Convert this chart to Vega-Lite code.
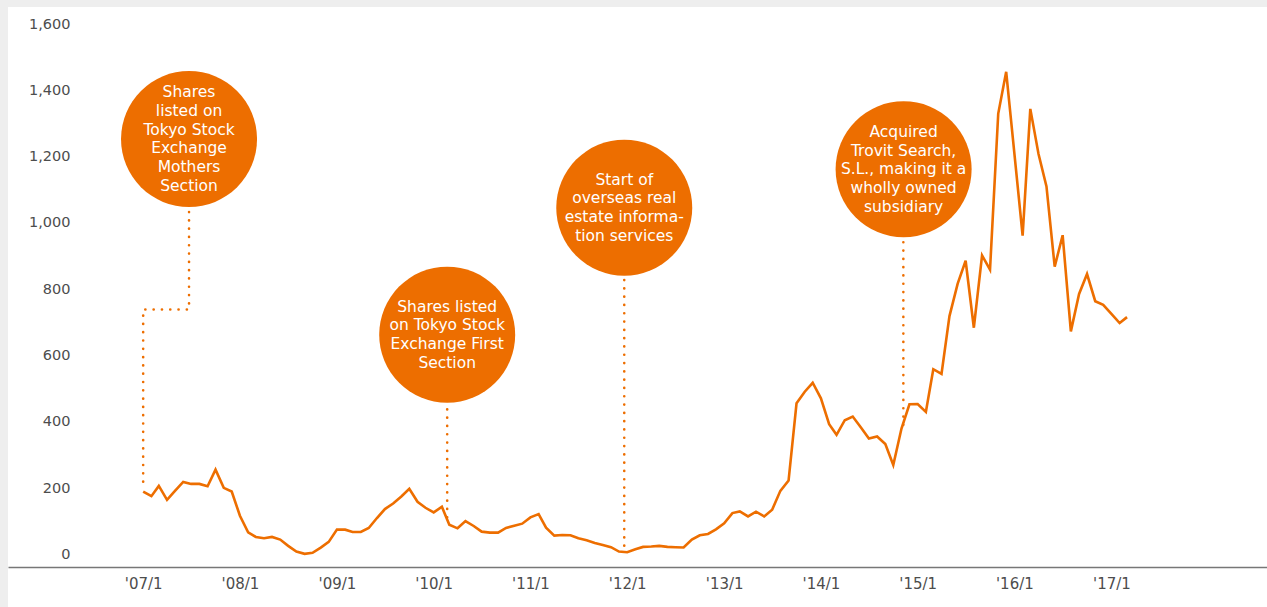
{
  "$schema": "https://vega.github.io/schema/vega-lite/v6.json",
  "width": 1259,
  "height": 600,
  "autosize": {"type": "none"},
  "padding": {"left": 8, "top": 7, "right": 0, "bottom": 0},
  "background": "#eeeeee",
  "config": {"view": {"fill": "white", "stroke": null}},
  "datasets": {
    "prices": [
      {"date": "2007-01-01", "value": 190}, {"date": "2007-02-01", "value": 176}, {"date": "2007-03-01", "value": 207}, {"date": "2007-04-01", "value": 165},
      {"date": "2007-05-01", "value": 192}, {"date": "2007-06-01", "value": 219}, {"date": "2007-07-01", "value": 213}, {"date": "2007-08-01", "value": 213},
      {"date": "2007-09-01", "value": 206}, {"date": "2007-10-01", "value": 256}, {"date": "2007-11-01", "value": 201}, {"date": "2007-12-01", "value": 190},
      {"date": "2008-01-01", "value": 117}, {"date": "2008-02-01", "value": 67}, {"date": "2008-03-01", "value": 53}, {"date": "2008-04-01", "value": 49},
      {"date": "2008-05-01", "value": 53}, {"date": "2008-06-01", "value": 45}, {"date": "2008-07-01", "value": 26}, {"date": "2008-08-01", "value": 9},
      {"date": "2008-09-01", "value": 2}, {"date": "2008-10-01", "value": 5}, {"date": "2008-11-01", "value": 21}, {"date": "2008-12-01", "value": 38},
      {"date": "2009-01-01", "value": 75}, {"date": "2009-02-01", "value": 75}, {"date": "2009-03-01", "value": 68}, {"date": "2009-04-01", "value": 68},
      {"date": "2009-05-01", "value": 80}, {"date": "2009-06-01", "value": 110}, {"date": "2009-07-01", "value": 137}, {"date": "2009-08-01", "value": 154},
      {"date": "2009-09-01", "value": 175}, {"date": "2009-10-01", "value": 198}, {"date": "2009-11-01", "value": 159}, {"date": "2009-12-01", "value": 141},
      {"date": "2010-01-01", "value": 127}, {"date": "2010-02-01", "value": 144}, {"date": "2010-03-01", "value": 90}, {"date": "2010-04-01", "value": 79},
      {"date": "2010-05-01", "value": 101}, {"date": "2010-06-01", "value": 86}, {"date": "2010-07-01", "value": 69}, {"date": "2010-08-01", "value": 66},
      {"date": "2010-09-01", "value": 66}, {"date": "2010-10-01", "value": 80}, {"date": "2010-11-01", "value": 87}, {"date": "2010-12-01", "value": 93},
      {"date": "2011-01-01", "value": 112}, {"date": "2011-02-01", "value": 122}, {"date": "2011-03-01", "value": 81}, {"date": "2011-04-01", "value": 57},
      {"date": "2011-05-01", "value": 59}, {"date": "2011-06-01", "value": 58}, {"date": "2011-07-01", "value": 49}, {"date": "2011-08-01", "value": 43},
      {"date": "2011-09-01", "value": 35}, {"date": "2011-10-01", "value": 29}, {"date": "2011-11-01", "value": 22}, {"date": "2011-12-01", "value": 9},
      {"date": "2012-01-01", "value": 7}, {"date": "2012-02-01", "value": 16}, {"date": "2012-03-01", "value": 23}, {"date": "2012-04-01", "value": 24},
      {"date": "2012-05-01", "value": 26}, {"date": "2012-06-01", "value": 23}, {"date": "2012-07-01", "value": 22}, {"date": "2012-08-01", "value": 21},
      {"date": "2012-09-01", "value": 45}, {"date": "2012-10-01", "value": 58}, {"date": "2012-11-01", "value": 62}, {"date": "2012-12-01", "value": 76},
      {"date": "2013-01-01", "value": 94}, {"date": "2013-02-01", "value": 125}, {"date": "2013-03-01", "value": 130}, {"date": "2013-04-01", "value": 115},
      {"date": "2013-05-01", "value": 129}, {"date": "2013-06-01", "value": 115}, {"date": "2013-07-01", "value": 135}, {"date": "2013-08-01", "value": 192},
      {"date": "2013-09-01", "value": 223}, {"date": "2013-10-01", "value": 456}, {"date": "2013-11-01", "value": 491}, {"date": "2013-12-01", "value": 518},
      {"date": "2014-01-01", "value": 471}, {"date": "2014-02-01", "value": 393}, {"date": "2014-03-01", "value": 361}, {"date": "2014-04-01", "value": 405},
      {"date": "2014-05-01", "value": 416}, {"date": "2014-06-01", "value": 383}, {"date": "2014-07-01", "value": 350}, {"date": "2014-08-01", "value": 356},
      {"date": "2014-09-01", "value": 333}, {"date": "2014-10-01", "value": 270}, {"date": "2014-11-01", "value": 380}, {"date": "2014-12-01", "value": 453},
      {"date": "2015-01-01", "value": 454}, {"date": "2015-02-01", "value": 430}, {"date": "2015-03-01", "value": 559}, {"date": "2015-04-01", "value": 545},
      {"date": "2015-05-01", "value": 719}, {"date": "2015-06-01", "value": 817}, {"date": "2015-07-01", "value": 886}, {"date": "2015-08-01", "value": 684},
      {"date": "2015-09-01", "value": 902}, {"date": "2015-10-01", "value": 859}, {"date": "2015-11-01", "value": 1330}, {"date": "2015-12-01", "value": 1456},
      {"date": "2016-02-01", "value": 962}, {"date": "2016-03-01", "value": 1344}, {"date": "2016-04-01", "value": 1208},
      {"date": "2016-05-01", "value": 1110}, {"date": "2016-06-01", "value": 868}, {"date": "2016-07-01", "value": 963}, {"date": "2016-08-01", "value": 673},
      {"date": "2016-09-01", "value": 786}, {"date": "2016-10-01", "value": 846}, {"date": "2016-11-01", "value": 764}, {"date": "2016-12-01", "value": 753},
      {"date": "2017-01-01", "value": 726}, {"date": "2017-02-01", "value": 698}, {"date": "2017-03-01", "value": 716}
    ],
    "connectors": [
      {"seg": "a", "ord": 1, "date": "2007-06-23", "value": 1033},
      {"seg": "a", "ord": 2, "date": "2007-06-23", "value": 739},
      {"seg": "a", "ord": 3, "date": "2007-01-01", "value": 739},
      {"seg": "a", "ord": 4, "date": "2007-01-01", "value": 200},
      {"seg": "b", "ord": 1, "date": "2010-02-21", "value": 438},
      {"seg": "b", "ord": 2, "date": "2010-02-21", "value": 108},
      {"seg": "c", "ord": 1, "date": "2011-12-21", "value": 828},
      {"seg": "c", "ord": 2, "date": "2011-12-21", "value": 23},
      {"seg": "d", "ord": 1, "date": "2014-11-08", "value": 942},
      {"seg": "d", "ord": 2, "date": "2014-11-08", "value": 391}
    ],
    "events": [
      {"id": 1, "date": "2007-06-23", "value": 1253, "label": "Shares\nlisted on\nTokyo Stock\nExchange\nMothers\nSection"},
      {"id": 2, "date": "2010-02-21", "value": 663, "label": "Shares listed\non Tokyo Stock\nExchange First\nSection"},
      {"id": 3, "date": "2011-12-21", "value": 1046, "label": "Start of\noverseas real\nestate informa-\ntion services"},
      {"id": 4, "date": "2014-11-09", "value": 1162, "label": "Acquired\nTrovit Search,\nS.L., making it a\nwholly owned\nsubsidiary"}
    ]
  },
  "encoding": {
    "x": {
      "field": "date",
      "type": "temporal",
      "scale": {
        "type": "utc",
        "domain": [
          {"year": 2005, "month": 8, "date": 9, "utc": true},
          {"year": 2018, "month": 8, "date": 11, "utc": true}
        ]
      },
      "axis": {
        "title": null,
        "orient": "bottom",
        "offset": -40,
        "labelExpr": "\"'\" + utcFormat(datum.value, '%y/%-m')",
        "values": [
          {"year": 2007, "month": 1, "date": 1, "utc": true},
          {"year": 2008, "month": 1, "date": 1, "utc": true},
          {"year": 2009, "month": 1, "date": 1, "utc": true},
          {"year": 2010, "month": 1, "date": 1, "utc": true},
          {"year": 2011, "month": 1, "date": 1, "utc": true},
          {"year": 2012, "month": 1, "date": 1, "utc": true},
          {"year": 2013, "month": 1, "date": 1, "utc": true},
          {"year": 2014, "month": 1, "date": 1, "utc": true},
          {"year": 2015, "month": 1, "date": 1, "utc": true},
          {"year": 2016, "month": 1, "date": 1, "utc": true},
          {"year": 2017, "month": 1, "date": 1, "utc": true}
        ],
        "grid": false,
        "ticks": false,
        "domain": true,
        "domainColor": "#777777",
        "domainWidth": 1.5,
        "labelPadding": 9,
        "labelFont": "DejaVu Sans",
        "labelFontSize": 15,
        "labelColor": "#4d4d4d",
        "labelFlush": false,
        "labelOverlap": false
      }
    },
    "y": {
      "field": "value",
      "type": "quantitative",
      "scale": {"domain": [-158.3, 1651.3], "nice": false, "zero": false},
      "axis": {
        "title": null,
        "orient": "left",
        "offset": -64,
        "values": [0, 200, 400, 600, 800, 1000, 1200, 1400, 1600],
        "format": ",.0f",
        "grid": false,
        "ticks": false,
        "domain": false,
        "labelPadding": 2,
        "labelFont": "DejaVu Sans",
        "labelFontSize": 14.5,
        "labelColor": "#4d4d4d",
        "labelFlush": false,
        "labelOverlap": false
      }
    }
  },
  "layer": [
    {
      "data": {"name": "connectors"},
      "mark": {"type": "line", "color": "#ed6e00", "strokeWidth": 2.6, "strokeDash": [0.1, 8.2], "strokeCap": "round"},
      "encoding": {
        "detail": {"field": "seg", "type": "nominal"},
        "order": {"field": "ord", "type": "quantitative"}
      }
    },
    {
      "data": {"name": "prices"},
      "mark": {"type": "line", "color": "#ed6e00", "strokeWidth": 2.6},
      "encoding": {}
    },
    {
      "data": {"name": "events"},
      "mark": {"type": "point", "shape": "circle", "filled": true, "size": 18496, "color": "#ed6e00", "opacity": 1, "strokeWidth": 0},
      "encoding": {}
    },
    {
      "data": {"name": "events"},
      "transform": [{"filter": "datum.id == 1"}],
      "mark": {"type": "text", "color": "#ffffff", "font": "DejaVu Sans", "fontSize": 15.5, "lineHeight": 18.7, "lineBreak": "\n", "align": "center", "baseline": "middle", "dy": -46.75},
      "encoding": {"text": {"field": "label", "type": "nominal"}}
    },
    {
      "data": {"name": "events"},
      "transform": [{"filter": "datum.id == 2 || datum.id == 3"}],
      "mark": {"type": "text", "color": "#ffffff", "font": "DejaVu Sans", "fontSize": 15.5, "lineHeight": 18.7, "lineBreak": "\n", "align": "center", "baseline": "middle", "dy": -28.05},
      "encoding": {"text": {"field": "label", "type": "nominal"}}
    },
    {
      "data": {"name": "events"},
      "transform": [{"filter": "datum.id == 4"}],
      "mark": {"type": "text", "color": "#ffffff", "font": "DejaVu Sans", "fontSize": 15.5, "lineHeight": 18.7, "lineBreak": "\n", "align": "center", "baseline": "middle", "dy": -37.4},
      "encoding": {"text": {"field": "label", "type": "nominal"}}
    }
  ]
}
